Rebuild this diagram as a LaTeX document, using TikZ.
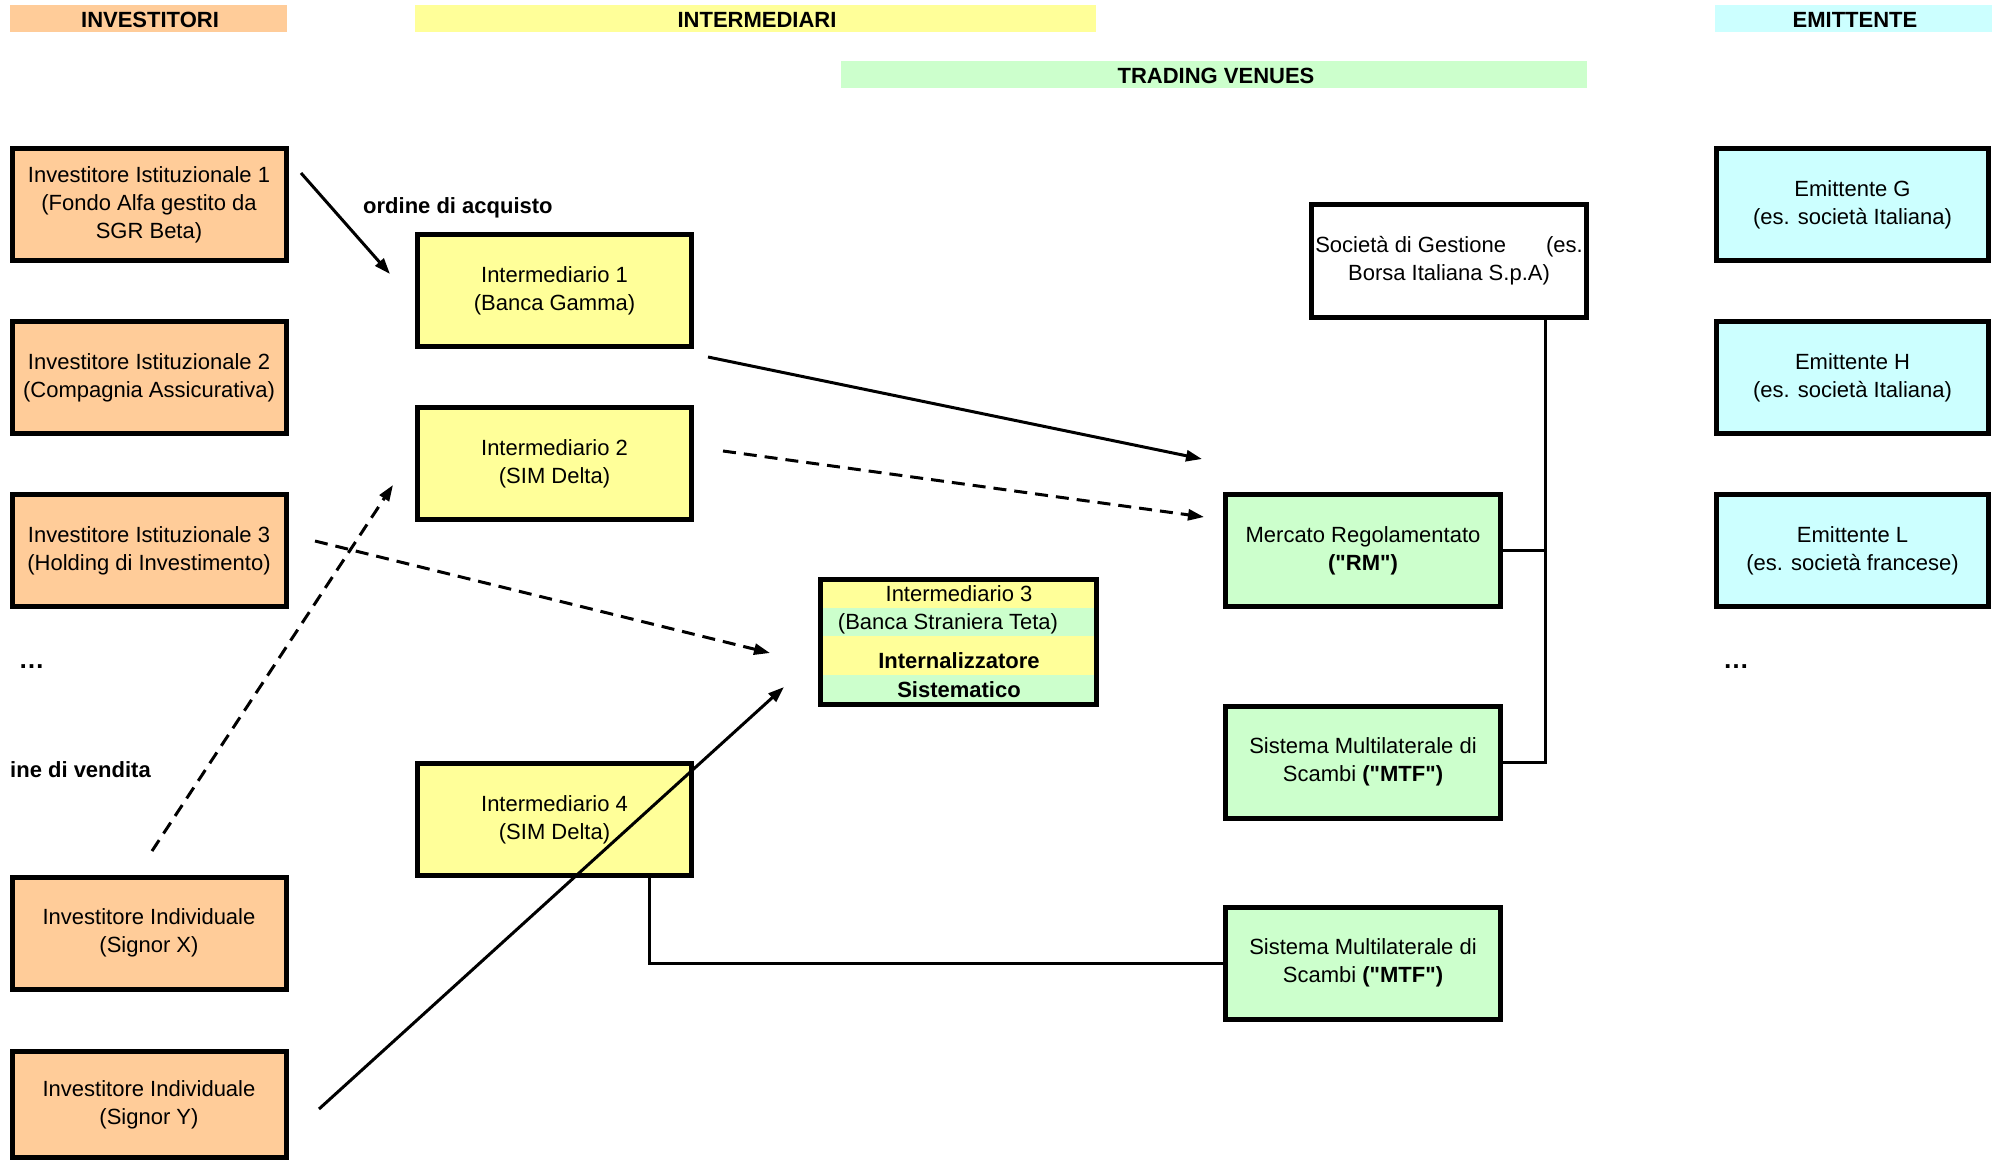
\documentclass[tikz,border=0pt]{standalone}
\usepackage{fontspec}
\setmainfont{Liberation Sans}[Ligatures=TeXOff]
\usetikzlibrary{arrows.meta}
\definecolor{peach}{HTML}{FFCC99}
\definecolor{lyellow}{HTML}{FFFF99}
\definecolor{lgreen}{HTML}{CCFFCC}
\definecolor{lcyan}{HTML}{CCFFFF}
\begin{document}
\begin{tikzpicture}[x=1pt,y=-1pt,
  every node/.style={font=\fontsize{22}{28}\selectfont, inner sep=0pt},
  box/.style={draw, line width=5pt, minimum width=274pt, minimum height=112pt, align=center,
    execute at begin node={\rule{0pt}{26pt}}},
  hdr/.style={minimum height=27pt, font=\fontsize{22}{28}\selectfont\bfseries},
  conn/.style={line width=3pt},
  arr/.style={line width=3pt, -{Triangle[length=16pt,width=11pt]}},
  dsh/.style={arr, dash pattern=on 13pt off 8pt}]
\useasboundingbox[fill=white] (0,0) rectangle (1992,1162);

% headers
\node[hdr, fill=peach, minimum width=277pt] (hinv) at (148.5,18.5) {};
\node[hdr, fill=lyellow, minimum width=681pt] (hint) at (755.5,18.5) {};
\node[hdr, fill=lcyan, minimum width=277pt] (hem) at (1853.5,18.5) {};
\node[hdr, fill=lgreen, minimum width=746pt] (htv) at (1214,74.5) {};
\node[font=\fontsize{22}{28}\selectfont\bfseries] (tinv) at (150,20) {INVESTITORI};
\node[font=\fontsize{22}{28}\selectfont\bfseries] (tint) at (757,20) {INTERMEDIARI};
\node[font=\fontsize{22}{28}\selectfont\bfseries] (tem) at (1855,20) {EMITTENTE};
\node[font=\fontsize{22}{28}\selectfont\bfseries] (ttv) at (1216,76) {TRADING VENUES};

\coordinate (bus) at (1545,0);
\coordinate (drop) at (649,0);

% investors
\node[box, fill=peach] (inv1) at (149,204.5) {Investitore Istituzionale 1\\(Fondo Alfa gestito da\\SGR Beta)};
\node[box, fill=peach] (inv2) at (149,377.5) {Investitore Istituzionale 2\\(Compagnia Assicurativa)};
\node[box, fill=peach] (inv3) at (149,550.5) {Investitore Istituzionale 3\\(Holding di Investimento)};
\node[box, fill=peach] (invx) at (149,933) {Investitore Individuale\\(Signor X)};
\node[box, fill=peach, minimum height=106pt] (invy) at (149,1104.5) {Investitore Individuale\\(Signor Y)};
\node[font=\fontsize{26}{28}\selectfont\bfseries] (dotsl) at (31.5,667) {…};
\node[anchor=west, font=\fontsize{22}{28}\selectfont\bfseries] (lvend) at (10,770) {ine di vendita};
\node[anchor=west, font=\fontsize{22}{28}\selectfont\bfseries] (lacq) at (363,208) {ordine di acquisto};

% intermediaries
\node[box, fill=lyellow] (ii1) at (554.5,290.5) {Intermediario 1\\(Banca Gamma)};
\node[box, fill=lyellow] (ii2) at (554.5,463.5) {Intermediario 2\\(SIM Delta)};
\node[box, fill=lyellow] (ii4) at (554.5,819.5) {Intermediario 4\\(SIM Delta)};

\fill[lyellow] (823,582) rectangle (1094,608);
\fill[lgreen] (823,608) rectangle (1094,636);
\fill[lyellow] (823,636) rectangle (1094,675);
\fill[lgreen] (823,675) rectangle (1094,702);
\node[draw, line width=5pt, minimum width=276pt, minimum height=125pt] (ii3) at (958.5,642) {};
\node (ii3a) at (959,594) {Intermediario 3};
\node (ii3b) at (948,624) {(Banca Straniera Teta)};
\node[font=\fontsize{22}{28}\selectfont\bfseries] (ii3c) at (959,661) {Internalizzatore};
\node[font=\fontsize{22}{28}\selectfont\bfseries] (ii3d) at (959,690) {Sistematico};

% trading venues
\node[box, fill=white, minimum width=275pt, minimum height=113pt] (soc) at (1449,261) {Società di Gestione\hspace{40pt}(es.\\Borsa Italiana S.p.A)};
\node[box, fill=lgreen, minimum width=275pt] (rm) at (1363,550.5) {Mercato Regolamentato\\\textbf{("RM")}};
\node[box, fill=lgreen, minimum width=275pt] (mtf1) at (1363,762) {Sistema Multilaterale di\\Scambi \textbf{("MTF")}};
\node[box, fill=lgreen, minimum width=275pt] (mtf2) at (1363,963) {Sistema Multilaterale di\\Scambi \textbf{("MTF")}};

% issuers
\node[box, fill=lcyan, minimum width=272pt] (emg) at (1852.5,204.5) {Emittente G\\(es. società Italiana)};
\node[box, fill=lcyan, minimum width=272pt] (emh) at (1852.5,377.5) {Emittente H\\(es. società Italiana)};
\node[box, fill=lcyan, minimum width=272pt] (eml) at (1852.5,550.5) {Emittente L\\(es. società francese)};
\node[font=\fontsize{26}{28}\selectfont\bfseries] (dotsr) at (1736,667) {…};

% lines
\draw[conn] (soc.south -| bus) -- (mtf1.east -| bus) -- (mtf1.east);
\draw[conn] (rm.east) -- (rm.east -| bus);
\draw[conn] (ii4.south -| drop) |- (mtf2.west);

% arrows
\coordinate (a1s) at (301,173); \coordinate (a1e) at (390,274);
\coordinate (a2s) at (708,357); \coordinate (a2e) at (1202,459);
\coordinate (a3s) at (723,451); \coordinate (a3e) at (1204,517);
\coordinate (a4s) at (315,541); \coordinate (a4e) at (770,653);
\coordinate (a5s) at (152,851); \coordinate (a5e) at (393,485);
\coordinate (a6s) at (319,1109); \coordinate (a6e) at (784,687);
\draw[arr] (a1s) -- (a1e);
\draw[arr] (a2s) -- (a2e);
\draw[dsh] (a3s) -- (a3e);
\draw[dsh] (a4s) -- (a4e);
\draw[dsh] (a5s) -- (a5e);
\draw[arr] (a6s) -- (a6e);
\end{tikzpicture}
\end{document}
